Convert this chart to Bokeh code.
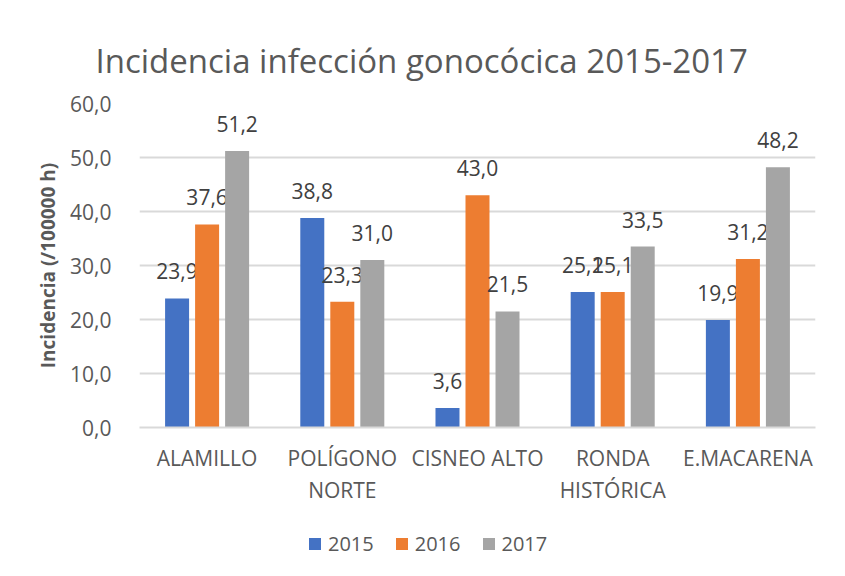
from bokeh.plotting import figure
from bokeh.layouts import column
from bokeh.models import (FactorRange, Range1d, ColumnDataSource, Legend, LegendItem,
                          FixedTicker)
from bokeh.transform import dodge
from bokeh.core.properties import value
from bokeh.embed import file_html
from bokeh.resources import INLINE

categories = ["ALAMILLO", "POLÍGONO\nNORTE", "CISNEO ALTO", "RONDA\nHISTÓRICA", "E.MACARENA"]
years = ["2015", "2016", "2017"]
v2015 = [23.9, 38.8, 3.6, 25.1, 19.9]
v2016 = [37.6, 23.3, 43.0, 25.1, 31.2]
v2017 = [51.2, 31.0, 21.5, 33.5, 48.2]
colors = ["#4472C4", "#ED7D31", "#A5A5A5"]
y_ticks = [0, 10, 20, 30, 40, 50, 60]

FONT = "Open Sans"
TXT = "#595959"

def fmt(v):
    return f"{v:.1f}".replace(".", ",")

src = ColumnDataSource(dict(
    cat=categories,
    v2015=v2015, v2016=v2016, v2017=v2017,
    t2015=[fmt(v) for v in v2015],
    t2016=[fmt(v) for v in v2016],
    t2017=[fmt(v) for v in v2017],
))

xr = FactorRange(factors=categories, range_padding=0)
p = figure(frame_width=676, frame_height=324, output_backend="svg", toolbar_location=None,
           x_range=xr, y_range=Range1d(0, 60),
           min_border_left=139, min_border_right=14, min_border_top=103, min_border_bottom=80)

p.outline_line_color = None
p.background_fill_color = "white"
p.border_fill_color = "white"

offs = [-0.222, 0.0, 0.222]
for yr, col, off in zip(years, colors, offs):
    p.vbar(x=dodge("cat", off, range=xr), top="v" + yr, width=0.1775,
           source=src, color=col, line_color=None)
    p.text(x=dodge("cat", off, range=xr), y="v" + yr, text="t" + yr, source=src,
           text_align="center", text_baseline="alphabetic", y_offset=-27,
           text_font=value(FONT), text_font_size="21px", text_color="#404040")

# axes
p.yaxis.ticker = FixedTicker(ticks=y_ticks)
p.yaxis.major_label_overrides = {t: fmt(t) for t in y_ticks}
p.yaxis.axis_line_color = None
p.yaxis.major_tick_line_color = None
p.yaxis.minor_tick_line_color = None
p.yaxis.major_label_text_font = FONT
p.yaxis.major_label_text_font_size = "21px"
p.yaxis.major_label_text_color = TXT
p.yaxis.major_label_standoff = 22
p.yaxis.axis_label = "Incidencia (/100000 h)"
p.yaxis.axis_label_text_font = FONT
p.yaxis.axis_label_text_font_size = "19px"
p.yaxis.axis_label_text_font_style = "bold"
p.yaxis.axis_label_text_color = TXT
p.yaxis.axis_label_standoff = 6

p.xaxis.axis_line_color = "#D9D9D9"
p.xaxis.axis_line_width = 2
p.xaxis.major_tick_line_color = None
p.xaxis.minor_tick_line_color = None
p.xaxis.major_label_text_font = FONT
p.xaxis.major_label_text_font_size = "21px"
p.xaxis.major_label_text_color = TXT
p.xaxis.major_label_text_line_height = 1.15
p.xaxis.major_label_standoff = 10

p.xgrid.grid_line_color = None
p.ygrid.grid_line_color = "#D9D9D9"
p.ygrid.grid_line_width = 2

p.title.text = "Incidencia infección gonocócica 2015-2017"
p.title.align = "left"
p.title.vertical_align = "top"
p.title.offset = -44
p.title.text_font = FONT
p.title.text_font_size = "33px"
p.title.text_font_style = "normal"
p.title.text_color = TXT
p.title.standoff = 38

# legend strip (separate figure directly below the chart; its proxy bars are hidden)
leg = figure(width=829, height=53, output_backend="svg", toolbar_location=None,
             x_axis_type=None, y_axis_type=None, x_range=xr, y_range=Range1d(-2, -1),
             min_border=0)
leg.outline_line_color = None
leg.xgrid.grid_line_color = None
leg.ygrid.grid_line_color = None
leg_items = []
for yr, col, off in zip(years, colors, offs):
    r = leg.vbar(x=dodge("cat", off, range=xr), top="v" + yr, width=0.1775,
                 source=src, color=col, line_color=None)
    r.visible = False
    leg_items.append(LegendItem(label=yr, renderers=[r]))

legend = Legend(items=leg_items, orientation="horizontal", location=(168, 3),
                label_text_font=FONT, label_text_font_size="20px", label_text_color=TXT,
                glyph_width=15, glyph_height=15, spacing=20, label_standoff=6,
                border_line_color=None, background_fill_alpha=0, margin=0, padding=0,
                inactive_fill_alpha=0)
leg.add_layout(legend, "center")

layout = column(p, leg, spacing=0)
open("out.html", "w").write(file_html(layout, INLINE))
